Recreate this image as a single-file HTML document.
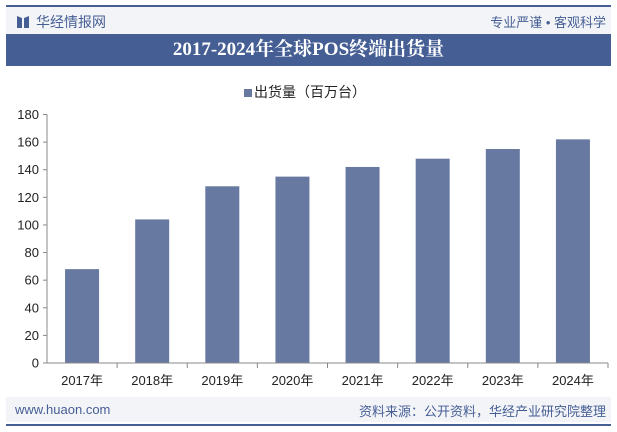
<!DOCTYPE html>
<html><head><meta charset="utf-8"><style>
body{margin:0;width:617px;height:432px;background:#fff;font-family:"Liberation Sans","Noto Sans CJK SC",sans-serif;position:relative;overflow:hidden}
.abs{position:absolute}
</style></head><body>
<div class="abs" style="left:6px;top:5px;width:605px;height:2px;background:#455e94"></div>
<div class="abs" style="left:6px;top:7px;width:605px;height:27px;background:#f3f4f8"></div>
<div class="abs" style="left:17px;top:12px;font-size:14px;color:#455e94;display:flex;align-items:center"><svg width="12" height="14" style="margin-right:7px"><path d="M0 1 L5 3 L5 13 L0 13Z M12 1 L7 3 L7 13 L12 13Z" fill="#455e94"/></svg>华经情报网</div>
<div class="abs" style="right:11px;top:12px;font-size:13px;color:#455e94">专业严谨 • 客观科学</div>
<div class="abs" style="left:6px;top:34px;width:605px;height:32px;background:#455e94;color:#fff;font-family:'Liberation Serif','Noto Serif CJK SC',serif;font-weight:bold;font-size:19px;text-align:center;line-height:32px" >2017-2024年全球POS终端出货量</div>
<div class="abs" style="left:244px;top:82px;font-size:14px;color:#222"><span style="display:inline-block;width:8px;height:8px;background:#6779a0;margin-right:2px"></span>出货量（百万台）</div>
<svg class="abs" style="left:0;top:0" width="617" height="432" id="chart"></svg>
<div class="abs" style="left:6px;top:397px;width:605px;height:25px;background:#f3f4f8"></div>
<div class="abs" style="left:15px;top:402px;font-size:13px;color:#455e94">www.huaon.com</div>
<div class="abs" style="right:11px;top:401px;font-size:13px;color:#455e94">资料来源：公开资料，华经产业研究院整理</div>
<div class="abs" style="left:6px;top:424px;width:605px;height:2px;background:#455e94"></div>
<script>
const categories=["2017年","2018年","2019年","2020年","2021年","2022年","2023年","2024年"];
const values=[68,104,128,135,142,148,155,162];
const ticks=[0,20,40,60,80,100,120,140,160,180];
const svg=document.getElementById('chart');const NS='http://www.w3.org/2000/svg';
const x0=47,x1=608,y0=363,y1=114.5,maxV=180;
const yS=v=>y0-(v/maxV)*(y0-y1);
const bw=(x1-x0)/categories.length;
function mk(t,a){const e=document.createElementNS(NS,t);for(const k in a)e.setAttribute(k,a[k]);svg.appendChild(e);return e;}
values.forEach((v,i)=>{const r=mk('rect',{x:x0+bw*i+bw/2-17,y:yS(v),width:34,height:y0-yS(v),fill:'#6779a0'});

});
mk('line',{x1:x0,y1:y1,x2:x0,y2:y0,stroke:'#888'});
mk('line',{x1:x0,y1:y0,x2:x1,y2:y0,stroke:'#888'});
ticks.forEach(t=>{const y=yS(t);mk('line',{x1:x0-4,y1:y,x2:x0,y2:y,stroke:'#888'});
const l=mk('text',{x:x0-8,y:y+4.5,'text-anchor':'end','font-size':13,fill:'#222'});l.textContent=t;

});
categories.forEach((c,i)=>{const x=x0+bw*(i+1);mk('line',{x1:x,y1:y0,x2:x,y2:y0+5,stroke:'#888'});
const l=mk('text',{x:x0+bw*i+bw/2,y:y0+22,'text-anchor':'middle','font-size':13,fill:'#222'});l.textContent=c;

});
</script>
</body></html>
